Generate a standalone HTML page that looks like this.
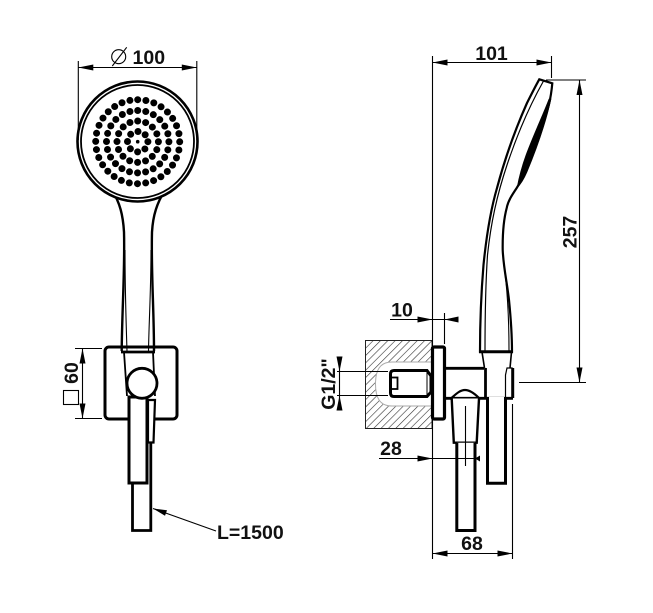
<!DOCTYPE html>
<html>
<head>
<meta charset="utf-8">
<style>
html,body{margin:0;padding:0;background:#fff;width:653px;height:613px;overflow:hidden}
svg{display:block}
text{font-family:"Liberation Sans",sans-serif;font-size:19.5px;font-weight:bold;fill:#111}
</style>
</head>
<body>
<svg width="653" height="613" viewBox="0 0 653 613" xmlns="http://www.w3.org/2000/svg">
<defs>
<pattern id="h" width="5.2" height="5.2" patternUnits="userSpaceOnUse" patternTransform="rotate(45)">
<rect width="5.2" height="5.2" fill="#fff"/>
<line x1="0" y1="0" x2="0" y2="5.2" stroke="#333" stroke-width="1.2"/>
</pattern>
</defs>

<!-- LEFT VIEW -->
<g fill="none" stroke="#000">
  <!-- plate -->
  <rect x="105" y="347" width="72" height="72" rx="4" stroke-width="3" fill="#fff"/>
  <!-- handle -->
  <path d="M112 190 C120 203 123 215 124 232 C125 270 122 310 121.7 351" stroke-width="2.4" fill="#fff"/>
  <path d="M165 190 C157 203 153 215 152 232 C151 270 154 310 154 351" stroke-width="2.4" fill="#fff"/>
  <path d="M125 250 C125 290 126 320 127 351 M151 250 C151 290 149 320 148.5 351" stroke-width="1.1"/>
  <rect x="123" y="353" width="30" height="38" fill="#fff" stroke="none"/>
  <line x1="121" y1="352" x2="155" y2="352" stroke-width="2.8"/>
  <path d="M124 352 L127 396 M153 352 L155 396" stroke-width="1.8"/>
  <!-- head -->
  <circle cx="137.5" cy="141.5" r="60" stroke-width="2.6" fill="#fff"/>
  <circle cx="137.5" cy="141.5" r="56.5" stroke-width="1.8"/>
  <!-- nozzles -->
  <circle cx="137.7" cy="141.7" r="1.8" fill="#000" stroke="none"/>
  <g stroke-width="7" stroke-linecap="round">
    <circle cx="137.7" cy="141.7" r="10.2" stroke-dasharray="0 8.01"/>
    <circle cx="137.7" cy="141.7" r="20.7" stroke-dasharray="0 8.129" transform="rotate(-90 137.7 141.7)"/>
    <circle cx="137.7" cy="141.7" r="31.2" stroke-dasharray="0 8.168" transform="rotate(-90 137.7 141.7)"/>
    <circle cx="137.7" cy="141.7" r="42" stroke-dasharray="0 8.247" transform="rotate(-90 137.7 141.7)"/>
  </g>
  <!-- tubes -->
  <path d="M132.5 483 V530.5 H150.8 V442" stroke-width="2.8"/>
  <rect x="129" y="397" width="18" height="86" stroke-width="3" fill="#fff"/>
  <path d="M148 400 H155 L153.5 442.5 H148 Z" stroke-width="2.2" fill="#fff"/>
  <circle cx="142" cy="383.3" r="15" stroke-width="2.8" fill="#fff"/>
</g>

<!-- RIGHT VIEW -->
<g fill="none" stroke="#000">
  <!-- hatched wall -->
  <rect x="365.5" y="340.5" width="66.5" height="88" fill="url(#h)" stroke="#222" stroke-width="1"/>
  <path d="M432 362 H392 C380 362 375.5 370 375.5 384 C375.5 398 380 406 392 406 H432 Z" fill="#fff" stroke="#aaa" stroke-width="1"/>
  <!-- fitting inside wall -->
  <path d="M394 370.5 H427 L431 376 V392 L427 396.5 H394 Q390.5 396.5 390.5 393 V374 Q390.5 370.5 394 370.5 Z" stroke-width="3" fill="#fff"/>
  <rect x="391" y="377.5" width="6.5" height="11.5" stroke-width="1.8"/>
  <line x1="427" y1="371" x2="427" y2="396" stroke-width="1"/>
  <!-- flange -->
  <rect x="432.5" y="347" width="12" height="72" rx="1.5" stroke-width="3.2" fill="#fff"/>
  <!-- body -->
  <path d="M445 368.3 H484 M445 398.3 H452" stroke-width="2.8"/>
  <path d="M485.5 368 V397" stroke-width="2.8"/>
  <!-- nut -->
  <path d="M451.5 398 C456 394 460 390 465 390 C470 390 475 394 479 398 Z" stroke-width="2.2" fill="#fff"/>
  <path d="M451.7 398.5 L453.8 442.7 H476.7 L479 398.5" stroke-width="2.4" fill="#fff"/>
  <path d="M456.8 442.7 V530.5 H475 V442.7" stroke-width="3" fill="#fff"/>
  <!-- holder -->
  <path d="M479 398.3 H513" stroke-width="2.8"/>
  <path d="M487.5 397 V483.3 H505.5 V397" stroke-width="3" fill="#fff"/>
  <path d="M512.7 368 V398" stroke-width="3"/>
  <path d="M512.7 368 H507 L505.5 375 V397" stroke-width="1.2"/>
  <path d="M482 352 L484.5 368 M511.5 352 L510 368" stroke-width="1.6"/>
  <!-- handle side -->
  <path d="M539.3 79.3 L552.3 83.3 C551.5 92 550.5 98 549 104 C543 128 533 152 524 172 C522 178 520 183 516.7 188 C512 195 508 201 506.7 208 C503.5 220 502.5 235 502.7 250 C503.5 268 507 282 509 300 C511 320 512 335 512 351.7 H480 C480 320 481 295 483.5 265 C486 240 490 212 497 188 C505 158 515 130 527 103 C531 95 535 87 539.3 79.3 Z" stroke-width="2.2" fill="#fff"/>
  <path d="M543.5 81 C530 105 518 132 507 165 C497 195 491 222 487.5 255 C485.5 285 485 320 485 351" stroke-width="1.2"/>
  <path d="M503.5 262 C507 285 509 310 509 351" stroke-width="1.1"/>
  <path d="M551 99 C546 122 537 148 527 172 C524 179 521 184 517 188 C519 177 522 166 526 155 C533 136 542 117 549 99 Z" fill="#000" stroke="#000" stroke-width=".6"/>
  <line x1="479" y1="351.7" x2="513" y2="351.7" stroke-width="3"/>
</g>

<!-- DIMENSION LINES -->
<g fill="none" stroke="#000" stroke-width="1.1">
  <!-- dia 100 -->
  <path d="M78.3 61 V140 M196.8 61 V140 M78.3 67.5 H196.8"/>
  <circle cx="118.7" cy="56.7" r="7"/>
  <path d="M112.3 66 L126.7 47.3"/>
  <!-- 60 -->
  <path d="M75 348.5 H102 M75 418.5 H102 M82.5 348.5 V418.5"/>
  <rect x="63.5" y="390.5" width="15" height="14"/>
  <!-- leader -->
  <path d="M153 508.5 L216 531"/>
  <!-- 101 -->
  <path d="M432.5 56 V559 M551.5 56 V78 M432.5 62.5 H551.5"/>
  <!-- 257 -->
  <path d="M546 80 H586 M519 382.5 H586 M579.5 80 V382.5"/>
  <!-- 10 -->
  <path d="M390 319.5 H458 M444.5 313 V344"/>
  <!-- G1/2 -->
  <path d="M337 371.5 H388 M337 395.5 H388 M339.5 356.5 V410.5"/>
  <!-- 28 -->
  <path d="M379 458.5 H480 M465.5 406 V466"/>
  <!-- 68 -->
  <path d="M432.5 553.5 H512.5 M512.5 404 V559"/>
</g>
<g fill="#000" stroke="none">
  <path d="M78.3 67.5 l15 -3 v6 Z M196.8 67.5 l-15 -3 v6 Z"/>
  <path d="M82.5 348.5 l-3 15 h6 Z M82.5 418.5 l-3 -15 h6 Z"/>
  <path d="M153 508.5 l14 1.7 l-2 5.6 Z"/>
  <path d="M432.5 62.5 l15 -3 v6 Z M551.5 62.5 l-15 -3 v6 Z"/>
  <path d="M579.5 80 l-3 15 h6 Z M579.5 382.5 l-3 -15 h6 Z"/>
  <path d="M432.5 319.5 l-15 -3 v6 Z M444.5 319.5 l14 -3 v6 Z"/>
  <path d="M339.5 371.5 l-3 -15 h6 Z M339.5 395.5 l-3 15 h6 Z"/>
  <path d="M432.5 458.5 l-15 -3 v6 Z M475 458.5 l5 -3 v6 Z"/>
  <path d="M432.5 553.5 l15 -3 v6 Z M512.5 553.5 l-15 -3 v6 Z"/>
</g>

<!-- LABELS -->
<text x="132.5" y="64">100</text>
<text transform="translate(78 373) rotate(-90)" text-anchor="middle">60</text>
<text x="217" y="539">L=1500</text>
<text x="491.5" y="60" text-anchor="middle">101</text>
<text transform="translate(576.5 232) rotate(-90)" text-anchor="middle">257</text>
<text x="402" y="316.5" text-anchor="middle">10</text>
<text transform="translate(335 384) rotate(-90)" text-anchor="middle">G1/2"</text>
<text x="391" y="455" text-anchor="middle">28</text>
<text x="472" y="550" text-anchor="middle">68</text>
</svg>
</body>
</html>
